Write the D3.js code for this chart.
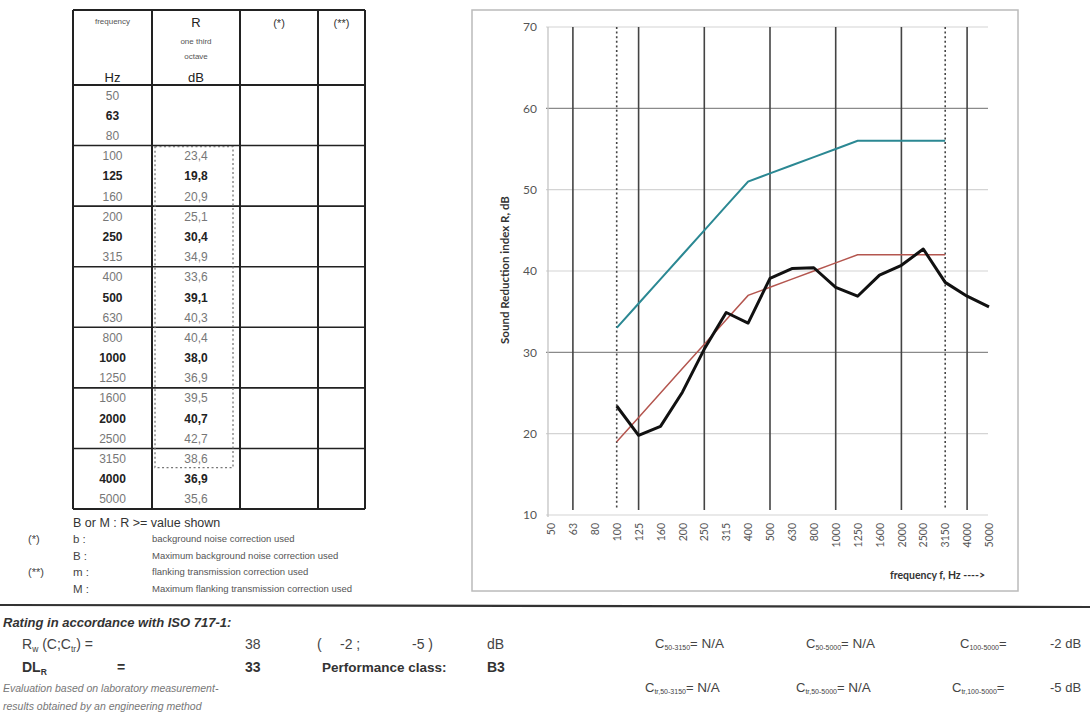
<!DOCTYPE html>
<html>
<head>
<meta charset="utf-8">
<script src="https://cdn.jsdelivr.net/npm/d3@7/dist/d3.min.js"></script>
<style>
  html, body { margin: 0; padding: 0; background: #fff; }
  svg { display: block; }
  text { font-family: "Liberation Sans", Arial, sans-serif; }
  .chart text { font-family: Lato, "Open Sans", sans-serif; }
</style>
</head>
<body>
<svg id="page" width="1090" height="727"></svg>
<script>
// ---------- DATA ----------
const frequencies = ["50","63","80","100","125","160","200","250","315","400","500","630","800","1000","1250","1600","2000","2500","3150","4000","5000"];
const measuredR   = [null,null,null,23.4,19.8,20.9,25.1,30.4,34.9,33.6,39.1,40.3,40.4,38.0,36.9,39.5,40.7,42.7,38.6,36.9,35.6];
const shiftedRef  = [null,null,null,19,22,25,28,31,34,37,38,39,40,41,42,42,42,42,42,null,null];
const referenceCurve = [null,null,null,33,36,39,42,45,48,51,52,53,54,55,56,56,56,56,56,null,null];
const octaveBands = ["63","125","250","500","1000","2000","4000"];
const rangeLimits = ["100","3150"];
const yTicks = [10,20,30,40,50,60,70];
const strongGrid = [30,60];

const legendNote = "B or M : R >= value shown";
const legendRows = [
  {mark:"(*)", key:"b :", desc:"background  noise correction used"},
  {mark:"",    key:"B :", desc:"Maximum background noise correction used"},
  {mark:"(**)",key:"m :", desc:"flanking transmission correction used"},
  {mark:"",    key:"M :", desc:"Maximum flanking transmission correction used"}
];
const rating = {Rw:38, C:-2, Ctr:-5, DLR:33, perfClass:"B3"};
const spectrumTerms = [
  {name:"C", sub:"50-3150", val:"N/A"},
  {name:"C", sub:"50-5000", val:"N/A"},
  {name:"C", sub:"100-5000", val:"-2 dB"},
  {name:"C", sub:"tr,50-3150", val:"N/A"},
  {name:"C", sub:"tr,50-5000", val:"N/A"},
  {name:"C", sub:"tr,100-5000", val:"-5 dB"}
];

// ---------- PAGE ----------
const svg = d3.select("#page");
const fmt = v => v == null ? "" : d3.format(".1f")(v).replace(".", ",");

// ---------- TABLE ----------
const colX = [73,152,240,318,365];
const headTop = 10, headBottom = 85, tableBottom = 509;
const rowH = (tableBottom - headBottom) / frequencies.length;
const tbl = svg.append("g");

const ht = (x,y,t,s,w,c) => tbl.append("text").attr("x",x).attr("y",y).attr("text-anchor","middle")
  .attr("font-size",s).attr("font-weight",w||"normal").attr("fill",c||"#333").text(t);
const c1 = (colX[0]+colX[1])/2, c2 = (colX[1]+colX[2])/2, c3 = (colX[2]+colX[3])/2, c4 = (colX[3]+colX[4])/2;
ht(c1,24,"frequency",8,"normal","#555");
ht(c1,82,"Hz",13,"normal","#222");
ht(c2,27,"R",13,"normal","#222");
ht(c2,44,"one third",8,"normal","#555");
ht(c2,59,"octave",8,"normal","#555");
ht(c2,82,"dB",13,"normal","#222");
ht(c3,27,"(*)",11,"normal","#333");
ht(c4,27,"(**)",11,"normal","#333");

frequencies.forEach((f,i) => {
  const bold = octaveBands.includes(f);
  const y = headBottom + rowH*i + rowH/2 + 4.5;
  tbl.append("text").attr("x",c1).attr("y",y).attr("text-anchor","middle").attr("font-size",12)
    .attr("font-weight",bold?"bold":"normal").attr("fill",bold?"#222":"#777").text(f);
  tbl.append("text").attr("x",c2).attr("y",y).attr("text-anchor","middle").attr("font-size",12)
    .attr("font-weight",bold?"bold":"normal").attr("fill",bold?"#222":"#777").text(fmt(measuredR[i]));
});

const hl = (y,w) => tbl.append("line").attr("x1",colX[0]).attr("x2",colX[4]).attr("y1",y).attr("y2",y).attr("stroke","#222").attr("stroke-width",w);
hl(headTop,2); hl(headBottom,2.2); hl(tableBottom,2);
for (let g = 3; g < frequencies.length; g += 3) hl(headBottom + rowH*g, 1.6);
colX.forEach(x => tbl.append("line").attr("x1",x).attr("x2",x).attr("y1",headTop).attr("y2",tableBottom)
  .attr("stroke","#222").attr("stroke-width",2));

const i0 = frequencies.indexOf(rangeLimits[0]), i1 = frequencies.indexOf(rangeLimits[1]);
tbl.append("rect").attr("x",colX[1]+3).attr("y",headBottom + rowH*i0 + 1)
  .attr("width",colX[2]-colX[1]-10).attr("height",rowH*(i1-i0+1)-2)
  .attr("fill","none").attr("stroke","#777").attr("stroke-width",1.3).attr("stroke-dasharray","2,2.5");

tbl.append("text").attr("x",73).attr("y",527).attr("font-size",12.5).attr("fill","#333").text(legendNote);
legendRows.forEach((r,i) => {
  const y = 543 + i*16.6;
  tbl.append("text").attr("x",28).attr("y",y).attr("font-size",11).attr("fill","#444").text(r.mark);
  tbl.append("text").attr("x",73).attr("y",y).attr("font-size",11.5).attr("fill","#444").text(r.key);
  tbl.append("text").attr("x",152).attr("y",y-1).attr("font-size",9.5).attr("fill","#555").text(r.desc);
});

// ---------- CHART ----------
const ch = svg.append("g").attr("class","chart");
ch.append("rect").attr("x",472).attr("y",10).attr("width",546).attr("height",581)
  .attr("fill","none").attr("stroke","#bbb").attr("stroke-width",1.5);

const x = d3.scalePoint().domain(frequencies).range([551, 989]);
const y = d3.scaleLinear().domain([10,70]).range([515, 27]);

ch.append("g").selectAll("line").data(yTicks).join("line")
  .attr("x1",546).attr("x2",988).attr("y1",d=>y(d)).attr("y2",d=>y(d))
  .attr("stroke",d=>strongGrid.includes(d)?"#8a8a8a":"#d4d4d4").attr("stroke-width",d=>strongGrid.includes(d)?1.3:1.2);

ch.append("line").attr("x1",548).attr("x2",548).attr("y1",y(70)).attr("y2",y(10)+2)
  .attr("stroke","#c4c4c4").attr("stroke-width",1.3);

const yAxis = d3.axisLeft(y).tickValues(yTicks).tickSize(0).tickPadding(0);
const yg = ch.append("g").attr("transform","translate(537,0)").call(yAxis);
yg.select(".domain").remove();
yg.selectAll("text").attr("font-size",12).attr("fill","#555").attr("font-family","Lato, sans-serif");

ch.append("g").selectAll("line").data(octaveBands).join("line")
  .attr("x1",d=>x(d)).attr("x2",d=>x(d)).attr("y1",y(70)).attr("y2",y(10)-5)
  .attr("stroke","#444").attr("stroke-width",1.6);
ch.append("g").selectAll("line").data(rangeLimits).join("line")
  .attr("x1",d=>x(d)).attr("x2",d=>x(d)).attr("y1",y(70)).attr("y2",y(10)-5)
  .attr("stroke","#444").attr("stroke-width",1.6).attr("stroke-dasharray","2,2.6");

const xAxis = d3.axisBottom(x).tickSize(0).tickPadding(0);
const xg = ch.append("g").attr("transform","translate(0,523)").call(xAxis);
xg.select(".domain").remove();
xg.selectAll("text").attr("font-size",10.5).attr("fill","#555").attr("font-family","Lato, sans-serif")
  .attr("transform","rotate(-90)").attr("text-anchor","end").attr("x",0).attr("y",0).attr("dy","0.35em");

ch.append("text").attr("transform","translate(509,270) rotate(-90)").attr("text-anchor","middle")
  .attr("font-size",11.5).attr("font-weight","bold").attr("fill","#333").text("Sound Reduction index R, dB");
ch.append("text").attr("x",985).attr("y",579).attr("text-anchor","end")
  .attr("font-size",10.5).attr("font-weight","bold").attr("fill","#333").text("frequency f, Hz  ---->");

const line = arr => d3.line().defined(d => d.v != null).x(d => x(d.f)).y(d => y(d.v))(
  frequencies.map((f,i) => ({f, v: arr[i]})));
ch.append("path").attr("d",line(referenceCurve)).attr("fill","none").attr("stroke","#2b8893").attr("stroke-width",2);
ch.append("path").attr("d",line(shiftedRef)).attr("fill","none").attr("stroke","#b4564f").attr("stroke-width",1.5);
ch.append("path").attr("d",line(measuredR)).attr("fill","none").attr("stroke","#111").attr("stroke-width",3)
  .attr("stroke-linejoin","round");

// ---------- RATING BLOCK ----------
svg.append("line").attr("x1",0).attr("x2",1090).attr("y1",605).attr("y2",607).attr("stroke","#333").attr("stroke-width",2.2);
const bt = svg.append("g");
bt.append("text").attr("x",3).attr("y",627).attr("font-size",13).attr("font-style","italic").attr("font-weight","bold")
  .attr("fill","#333").text("Rating in accordance with ISO 717-1:");

const rw = bt.append("text").attr("x",22).attr("y",649).attr("font-size",14).attr("fill","#444");
rw.append("tspan").text("R");
rw.append("tspan").attr("font-size",8.5).attr("dy",3).text("w");
rw.append("tspan").attr("dy",-3).text(" (C;C");
rw.append("tspan").attr("font-size",8.5).attr("dy",3).text("tr");
rw.append("tspan").attr("dy",-3).text(") =");
const simple = (xx,yy,t,opts={}) => bt.append("text").attr("x",xx).attr("y",yy).attr("font-size",opts.s||14)
  .attr("font-weight",opts.w||"normal").attr("fill",opts.c||"#444").attr("text-anchor",opts.a||"start").text(t);
simple(245,649,String(rating.Rw));
simple(317,649,"(");
simple(340,649,`${rating.C} ;`);
simple(412,649,`${rating.Ctr} )`);
simple(487,649,"dB");

const dl = bt.append("text").attr("x",22).attr("y",672).attr("font-size",14).attr("font-weight","bold").attr("fill","#333");
dl.append("tspan").text("DL");
dl.append("tspan").attr("font-size",8.5).attr("dy",3).text("R");
simple(117,672,"=",{w:"bold",c:"#333"});
simple(245,672,String(rating.DLR),{w:"bold",c:"#333"});
simple(322,672,"Performance class:",{w:"bold",c:"#333",s:13.5});
simple(487,672,rating.perfClass,{w:"bold",c:"#333"});

simple(3,692,"Evaluation based on laboratory measurement-",{s:10.5,c:"#777"}).attr("font-style","italic");
simple(3,710,"results obtained by an engineering method",{s:10.5,c:"#777"}).attr("font-style","italic");

const termX = [655,806,960];
spectrumTerms.forEach((t,i) => {
  const row = Math.floor(i/3), col = i%3;
  const yy = row===0 ? 648 : 692;
  const xx = termX[col] - (row===1 ? (col===2?8:10) : 0);
  const tx = bt.append("text").attr("x",xx).attr("y",yy).attr("font-size",13).attr("fill","#444")
    .attr("font-family","Lato, sans-serif");
  tx.append("tspan").text(t.name);
  tx.append("tspan").attr("font-size",7).attr("dy",1.5).text(t.sub);
  tx.append("tspan").attr("dy",-1.5).text("=");
  if (col < 2) tx.append("tspan").attr("font-size",13.5).text(" " + t.val);
  else bt.append("text").attr("x",1050).attr("y",yy).attr("font-size",13).attr("fill","#444")
    .attr("font-family","Lato, sans-serif").text(t.val);
});
</script>
</body>
</html>
